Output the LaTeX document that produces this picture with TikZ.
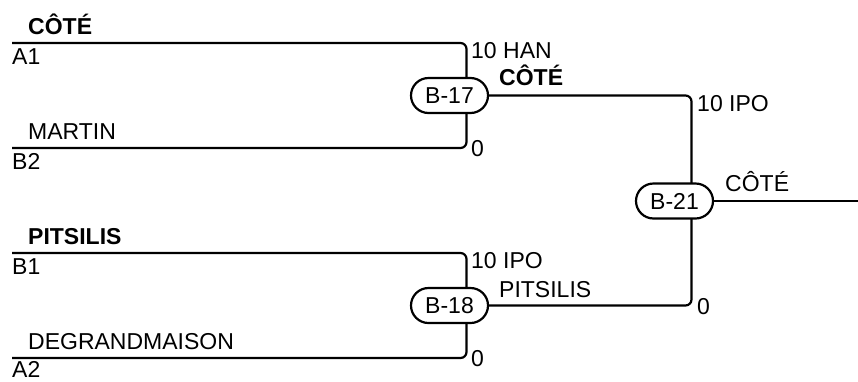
\documentclass[tikz,border=0pt]{standalone}
\usepackage{fontspec}
\setmainfont{Liberation Sans}
\usetikzlibrary{shapes.misc,positioning,backgrounds}

\begin{document}
\begin{tikzpicture}[
    x=1pt, y=-1pt,
    every node/.style={font=\fontsize{23}{27}\selectfont},
    % Bracket styles
    game/.style={rounded rectangle, draw, fill=white, line width=2.2pt, minimum width=77pt, minimum height=35pt, inner sep=0pt},
    wire/.style={line width=2.2pt, rounded corners=6pt},
    lbl/.style={anchor=base west, inner sep=0pt},
    winner/.style={lbl, font=\fontsize{23}{27}\selectfont\bfseries}
]
\useasboundingbox (0,0) rectangle (858,381);

% Games
\node [game] (b17) at (449.5,95.5) {B-17};
\node [game] (b18) at (449.5,305.5) {B-18};
\node [game] (b21) at (674.5,201) {B-21};

% Line starts and end
\coordinate (a1) at (12,43);
\coordinate (b2) at (12,148);
\coordinate (b1) at (12,253);
\coordinate (a2) at (12,358);
\coordinate (champ) at (858,201);

% Bracket lines
\begin{scope}[on background layer]
\draw [wire] (a1) -| ([xshift=17pt]b17.center) |- (b2);
\draw [wire] (b1) -| ([xshift=17pt]b18.center) |- (a2);
\draw [wire] (b17.east) -| ([xshift=17pt]b21.center) |- (b18.east);
\draw [wire] (b21.east) -- (champ);
\end{scope}

% Players
\node [winner] (pa1) at (28,34) {CÔTÉ};
\node [lbl] (sa1) at (12,64) {A1};
\node [lbl] (pb2) at (28,139) {MARTIN};
\node [lbl] (sb2) at (12,169) {B2};
\node [winner] (pb1) at (28,244) {PITSILIS};
\node [lbl] (sb1) at (12,274) {B1};
\node [lbl] (pa2) at (28,349) {DEGRANDMAISON};
\node [lbl] (sa2) at (12,377) {A2};

% Scores
\node [lbl] (s17a) at (471,58) {10 HAN};
\node [lbl] (s17b) at (471,156) {0};
\node [lbl] (s18a) at (471,268) {10 IPO};
\node [lbl] (s18b) at (471,366) {0};
\node [lbl] (s21a) at (697,111) {10 IPO};
\node [lbl] (s21b) at (697,314) {0};

% Winners
\node [winner] (w17) at (499,85) {CÔTÉ};
\node [lbl] (w18) at (499,297) {PITSILIS};
\node [lbl] (w21) at (725,191) {CÔTÉ};

\end{tikzpicture}
\end{document}
